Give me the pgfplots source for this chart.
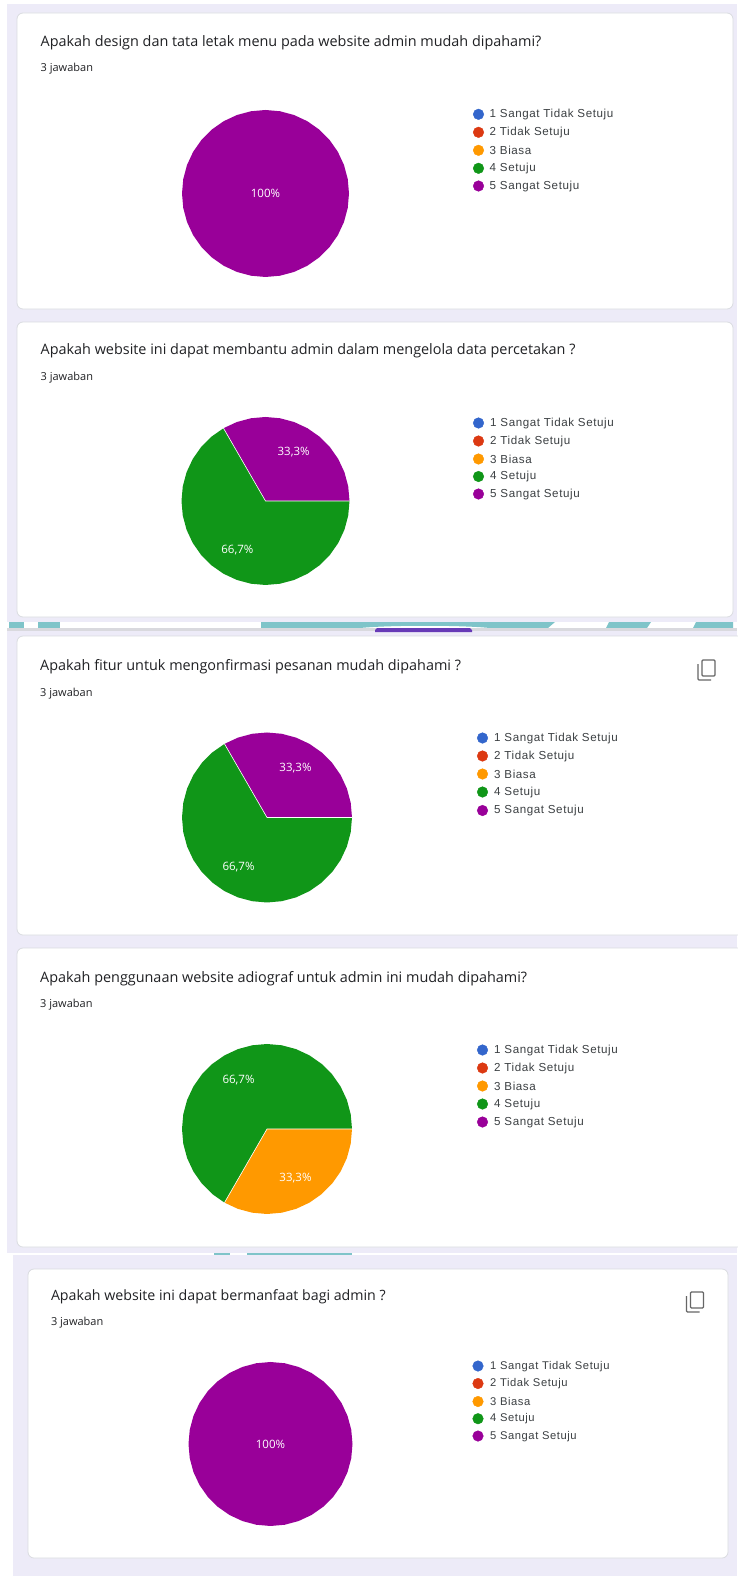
\documentclass[border=0pt]{standalone}
\usepackage{pgfplots}
\pgfplotsset{compat=1.18}
\usepgfplotslibrary{polar}
\usepackage{fontspec}
\setmainfont{Open Sans}
\newfontfamily\lgd[LetterSpace=5]{Liberation Sans}
\definecolor{bgl}{HTML}{EDEBF8}
\definecolor{bord}{HTML}{DADCE0}
\definecolor{teal1}{HTML}{7FC4C9}
\definecolor{gband}{HTML}{D9D9DE}
\definecolor{deep}{HTML}{673AB7}
\definecolor{ink}{HTML}{202124}
\definecolor{lgdink}{HTML}{3C4043}
\definecolor{c1}{HTML}{3366CC}
\definecolor{c2}{HTML}{DC3912}
\definecolor{c3}{HTML}{FF9900}
\definecolor{c4}{HTML}{109618}
\definecolor{c5}{HTML}{990099}
\newcommand{\cardbox}[4]{\fill[white,rounded corners=6pt,draw=bord,line width=0.8pt] (axis cs:#1,#2) rectangle (axis cs:#3,#4);}
\newcommand{\qtitle}[4]{%
 \node[anchor=west,text=ink,font=\fontsize{#4}{#4}\selectfont,inner sep=0pt] at (axis cs:#1,#2) {#3};}
\newcommand{\jaw}[2]{\node[anchor=west,text=ink,font=\fontsize{11}{11}\selectfont,inner sep=0pt] at (axis cs:#1,#2) {3 jawaban};}
\newcommand{\lgdtext}[5]{%
 \node[anchor=west,text=lgdink,font=\lgd\fontsize{#5}{11}\selectfont,inner sep=0pt] at (axis cs:#1,#2) {1 Sangat Tidak Setuju};
 \node[anchor=west,text=lgdink,font=\lgd\fontsize{#5}{11}\selectfont,inner sep=0pt] at (axis cs:#1,#2+#4*1) {2 Tidak Setuju};
 \node[anchor=west,text=lgdink,font=\lgd\fontsize{#5}{11}\selectfont,inner sep=0pt] at (axis cs:#1,#2+#4*2) {3 Biasa};
 \node[anchor=west,text=lgdink,font=\lgd\fontsize{#5}{11}\selectfont,inner sep=0pt] at (axis cs:#1,#2+#4*3) {4 Setuju};
 \node[anchor=west,text=lgdink,font=\lgd\fontsize{#5}{11}\selectfont,inner sep=0pt] at (axis cs:#1,#2+#4*4) {5 Sangat Setuju};}
\newcommand{\copyicon}[2]{%
 \draw[color=black!60,line width=1.3pt,rounded corners=1pt] (axis cs:#1+4,#2) rectangle (axis cs:#1+17,#2+16);
 \draw[color=black!60,line width=1.3pt,rounded corners=1pt] (axis cs:#1,#2+4) -- (axis cs:#1,#2+20) -- (axis cs:#1+13,#2+20);}
\pgfplotsset{piestyle/.style={hide axis,scale only axis,xmin=0,xmax=360,ymin=0,ymax=1,anchor=center,clip=false}}
\tikzset{pct/.style={text=white,font=\fontsize{11.5}{12}\selectfont,inner sep=0pt}}
\begin{document}
\begin{tikzpicture}
\path[use as bounding box] (0pt,0pt) rectangle (737pt,1576pt);
\begin{axis}[at={(0pt,0pt)},anchor=south west,scale only axis,width=737pt,height=1576pt,hide axis,
 xmin=0,xmax=737,ymin=0,ymax=1576,y dir=reverse,clip=false]
% page backgrounds
\fill[white] (axis cs:0,0) rectangle (axis cs:737,1576);
\fill[bgl] (axis cs:7,4) rectangle (axis cs:737,622);
\fill[bgl] (axis cs:7,628) rectangle (axis cs:737,1253);
\fill[bgl] (axis cs:13,1255) rectangle (axis cs:737,1576);
% strip between shots
\fill[teal1] (axis cs:9,622) rectangle (axis cs:23.5,628);
\fill[teal1] (axis cs:37.5,622) rectangle (axis cs:60,628);
\fill[teal1] (axis cs:261,622) -- (axis cs:555,622) -- (axis cs:548,628) -- (axis cs:490,628) .. controls (axis cs:460,625) and (axis cs:390,625) .. (axis cs:360,628) -- (axis cs:261,628) -- cycle;
\fill[teal1] (axis cs:609,622) -- (axis cs:651,622) -- (axis cs:647,628) -- (axis cs:606,628) -- cycle;
\fill[teal1] (axis cs:696,622) -- (axis cs:733,622) -- (axis cs:733,628) -- (axis cs:693,628) -- cycle;
\fill[gband] (axis cs:7,628) rectangle (axis cs:737,631);
\fill[deep] (axis cs:375,632) -- (axis cs:375,630) -- (axis cs:377,628) -- (axis cs:470,628) -- (axis cs:472,630) -- (axis cs:472,632) -- cycle;
\fill[teal1] (axis cs:214,1253) rectangle (axis cs:230,1255);
\fill[teal1] (axis cs:247,1253) rectangle (axis cs:352,1255);
% cards
\cardbox{17}{13}{733}{309}
\cardbox{17}{322}{733}{617}
\cardbox{17}{636}{745}{935}
\cardbox{17}{948}{745}{1247}
\cardbox{28}{1269}{728}{1558}
% titles
\qtitle{40.5}{43}{Apakah design dan tata letak menu pada website admin mudah dipahami?}{14.4}
\jaw{40.5}{69}
\qtitle{40.5}{351}{Apakah website ini dapat membantu admin dalam mengelola data percetakan ?}{14.4}
\jaw{40.5}{378}
\qtitle{40}{667}{Apakah fitur untuk mengonfirmasi pesanan mudah dipahami ?}{14.4}
\jaw{40}{694}
\qtitle{40}{978.5}{Apakah penggunaan website adiograf untuk admin ini mudah dipahami?}{14.4}
\jaw{40}{1004.5}
\qtitle{50.8}{1297}{Apakah website ini dapat bermanfaat bagi admin ?}{14.2}
\jaw{50.8}{1323}
\copyicon{698}{660}
\copyicon{686.5}{1292}
% legends
\lgdtext{489.5}{114.8}{}{18}{11.6}
\lgdtext{490}{423.5}{}{17.8}{11.6}
\lgdtext{494}{738.5}{}{18.1}{11.6}
\lgdtext{494}{1050.5}{}{18}{11.6}
\lgdtext{490}{1366.5}{}{17.5}{11.2}
\addplot[only marks,mark=*,mark size=5.3pt,color=c1,mark options={draw=none,fill=c1}] coordinates {(478.5,114.3)(478.5,423)(482.5,738)(482.5,1050)(478,1366)};
\addplot[only marks,mark=*,mark size=5.3pt,color=c2,mark options={draw=none,fill=c2}] coordinates {(478.5,132.3)(478.5,441)(482.5,756)(482.5,1068)(478,1383.5)};
\addplot[only marks,mark=*,mark size=5.3pt,color=c3,mark options={draw=none,fill=c3}] coordinates {(478.5,150.3)(478.5,459)(482.5,774)(482.5,1086)(478,1401.5)};
\addplot[only marks,mark=*,mark size=5.3pt,color=c4,mark options={draw=none,fill=c4}] coordinates {(478.5,168.3)(478.5,476.5)(482.5,792)(482.5,1104)(478,1418.7)};
\addplot[only marks,mark=*,mark size=5.3pt,color=c5,mark options={draw=none,fill=c5}] coordinates {(478.5,186)(478.5,494)(482.5,810.5)(482.5,1122)(478,1436)};
\end{axis}
% Pie 1: 5 Sangat Setuju 100%
\begin{polaraxis}[piestyle,at={(265.5pt,1382.5pt)},width=167pt,height=167pt]
\addplot[fill=c5,draw=none,mark=none] coordinates {(0,1)(10,1)(20,1)(30,1)(40,1)(50,1)(60,1)(70,1)(80,1)(90,1)(100,1)(110,1)(120,1)(130,1)(140,1)(150,1)(160,1)(170,1)(180,1)(190,1)(200,1)(210,1)(220,1)(230,1)(240,1)(250,1)(260,1)(270,1)(280,1)(290,1)(300,1)(310,1)(320,1)(330,1)(340,1)(350,1)};
\node[pct] at (axis cs:0,0) {100\%};
\end{polaraxis}
% Pie 2
\begin{polaraxis}[piestyle,at={(265.5pt,1075pt)},width=168pt,height=168pt]
\addplot[fill=c5,draw=none,mark=none] coordinates {(0,0)(0,1)(10,1)(20,1)(30,1)(40,1)(50,1)(60,1)(70,1)(80,1)(90,1)(100,1)(110,1)(120,1)};
\addplot[fill=c4,draw=none,mark=none] coordinates {(0,0)(120,1)(130,1)(140,1)(150,1)(160,1)(170,1)(180,1)(190,1)(200,1)(210,1)(220,1)(230,1)(240,1)(250,1)(260,1)(270,1)(280,1)(290,1)(300,1)(310,1)(320,1)(330,1)(340,1)(350,1)(360,1)};
\addplot[color=white,line width=0.6pt,mark=none] coordinates {(0,1)(0,0)(120,1)};
\node[pct] at (axis cs:60,0.67) {33,3\%};
\node[pct] at (axis cs:240,0.67) {66,7\%};
\end{polaraxis}
% Pie 3
\begin{polaraxis}[piestyle,at={(267pt,758.5pt)},width=170pt,height=170pt]
\addplot[fill=c5,draw=none,mark=none] coordinates {(0,0)(0,1)(10,1)(20,1)(30,1)(40,1)(50,1)(60,1)(70,1)(80,1)(90,1)(100,1)(110,1)(120,1)};
\addplot[fill=c4,draw=none,mark=none] coordinates {(0,0)(120,1)(130,1)(140,1)(150,1)(160,1)(170,1)(180,1)(190,1)(200,1)(210,1)(220,1)(230,1)(240,1)(250,1)(260,1)(270,1)(280,1)(290,1)(300,1)(310,1)(320,1)(330,1)(340,1)(350,1)(360,1)};
\addplot[color=white,line width=0.6pt,mark=none] coordinates {(0,1)(0,0)(120,1)};
\node[pct] at (axis cs:60,0.67) {33,3\%};
\node[pct] at (axis cs:240,0.67) {66,7\%};
\end{polaraxis}
% Pie 4
\begin{polaraxis}[piestyle,at={(267pt,447pt)},width=170pt,height=170pt]
\addplot[fill=c4,draw=none,mark=none] coordinates {(0,0)(0,1)(10,1)(20,1)(30,1)(40,1)(50,1)(60,1)(70,1)(80,1)(90,1)(100,1)(110,1)(120,1)(130,1)(140,1)(150,1)(160,1)(170,1)(180,1)(190,1)(200,1)(210,1)(220,1)(230,1)(240,1)};
\addplot[fill=c3,draw=none,mark=none] coordinates {(0,0)(240,1)(250,1)(260,1)(270,1)(280,1)(290,1)(300,1)(310,1)(320,1)(330,1)(340,1)(350,1)(360,1)};
\addplot[color=white,line width=0.6pt,mark=none] coordinates {(0,1)(0,0)(240,1)};
\node[pct] at (axis cs:120,0.67) {66,7\%};
\node[pct] at (axis cs:300,0.67) {33,3\%};
\end{polaraxis}
% Pie 5
\begin{polaraxis}[piestyle,at={(270.5pt,132pt)},width=164pt,height=164pt]
\addplot[fill=c5,draw=none,mark=none] coordinates {(0,1)(10,1)(20,1)(30,1)(40,1)(50,1)(60,1)(70,1)(80,1)(90,1)(100,1)(110,1)(120,1)(130,1)(140,1)(150,1)(160,1)(170,1)(180,1)(190,1)(200,1)(210,1)(220,1)(230,1)(240,1)(250,1)(260,1)(270,1)(280,1)(290,1)(300,1)(310,1)(320,1)(330,1)(340,1)(350,1)};
\node[pct] at (axis cs:0,0) {100\%};
\end{polaraxis}
\end{tikzpicture}
\end{document}
